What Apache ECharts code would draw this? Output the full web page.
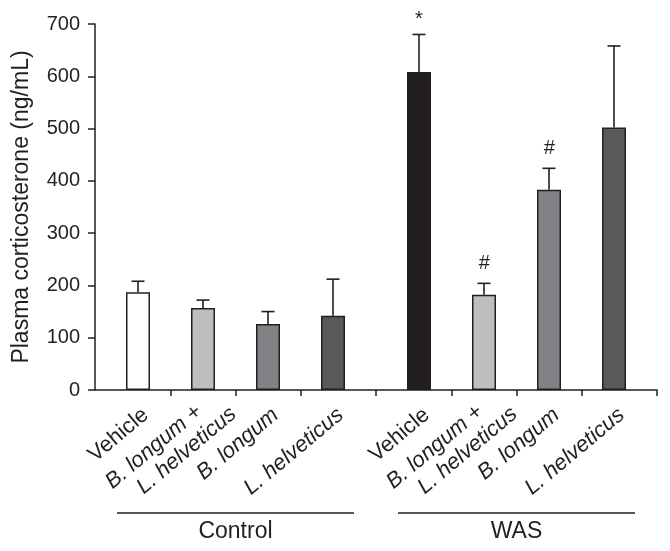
<!DOCTYPE html>
<html><head><meta charset="utf-8">
<script src="https://cdn.jsdelivr.net/npm/echarts@6/dist/echarts.min.js"></script>
<style>html,body{margin:0;padding:0;background:#fff}#c{width:670px;height:551px}</style>
</head><body><div id="c"></div>
<script>
// ---- data ----
const groupNames = ['Control', 'WAS'];
const categories = ['Vehicle', 'B. longum +\nL. helveticus', 'B. longum', 'L. helveticus'];
const controlMeans = [187, 157, 126, 142];
const controlErr = [21, 15, 24, 70];
const wasMeans = [608, 182, 383, 502];
const wasErr = [72, 22, 41, 156];
const controlMarks = ['', '', '', ''];
const wasMarks = ['*', '#', '#', ''];
const yMin = 0, yMax = 700, yInterval = 100;
const yName = 'Plasma corticosterone (ng/mL)';

// ---- styles / layout ----
const INK = '#231f20';
const FONT = '"Liberation Sans", Arial, Helvetica, sans-serif';
const controlColors = ['#ffffff', '#bcbec0', '#808285', '#58595b'];
const wasColors = ['#231f20', '#bcbec0', '#808285', '#58595b'];
const AX_L = 95, AX_R = 657, TOP = 24, BASE = 390;
const SLOT = 65, PAD = 10.5;
const g1Left = AX_L + PAD, g2Left = AX_L + 2 * PAD + 4 * SLOT + PAD;
const groupW = 4 * SLOT;
const span = AX_R - AX_L;
const tickVals = [];
for (let k = 1; k < 4; k++) tickVals.push(PAD + k * SLOT);
tickVals.push(span / 2);
for (let k = 1; k < 4; k++) tickVals.push(span / 2 + PAD + k * SLOT);
tickVals.push(span);
const LABEL_FS = 22, LABEL_LH = 24;
const markOffset = {'*': -15, '#': -20};

const chart = echarts.init(document.getElementById('c'), null, {renderer: 'canvas'});

function labelFmt(v) {
  if (v === 'Vehicle') return '{v|' + v + '}';
  const lines = v.split('\n');
  return lines.map((l, i) => (i < lines.length - 1 ? '{a|' : '{b|') + l + '}').join('\n');
}
function catData() {
  return categories.map(c => c.indexOf('\n') >= 0
    ? {value: c, textStyle: {verticalAlign: 'middle', padding: [28, -18, 0, 0]}}
    : c);
}
const catAxisLabel = {
  rotate: 40, margin: 13, fontSize: LABEL_FS, color: INK, fontFamily: FONT, interval: 0,
  verticalAlign: 'top',
  formatter: labelFmt,
  rich: {
    v: {fontSize: LABEL_FS, fontFamily: FONT, color: INK, lineHeight: LABEL_LH},
    a: {fontSize: LABEL_FS, fontFamily: FONT, color: INK, fontStyle: 'italic', lineHeight: LABEL_LH, padding: [0, 25, 0, 0]},
    b: {fontSize: LABEL_FS, fontFamily: FONT, color: INK, fontStyle: 'italic', lineHeight: LABEL_LH}
  }
};

function errRender(marks) {
  return function (params, api) {
    const i = api.value(0);
    const m = api.value(1), e = api.value(2);
    const base = api.coord([i, m]);
    const top = api.coord([i, m + e]);
    const cap = 6.5;
    const st = {stroke: INK, lineWidth: 1.6};
    const ch = [
      {type: 'line', shape: {x1: base[0], y1: base[1], x2: top[0], y2: top[1]}, style: st},
      {type: 'line', shape: {x1: top[0] - cap, y1: top[1], x2: top[0] + cap, y2: top[1]}, style: st}
    ];
    const mk = marks[params.dataIndex];
    if (mk) {
      ch.push({type: 'text', x: top[0], y: top[1] + (markOffset[mk] || -18),
        style: {text: mk, fill: INK, font: (mk === '#' ? 'italic ' : '') + '20px ' + FONT, textAlign: 'center', textVerticalAlign: 'middle'}});
    }
    return {type: 'group', children: ch};
  };
}

function barSeries(idx, means, colors) {
  return {
    type: 'bar', xAxisIndex: idx, yAxisIndex: idx, barWidth: 24, silent: true,
    data: means.map((v, i) => ({value: v, itemStyle: {color: colors[i], borderColor: INK, borderWidth: 1.5}})),
    z: 2
  };
}
function errSeries(idx, means, errs, marks) {
  return {
    type: 'custom', xAxisIndex: idx, yAxisIndex: idx, silent: true, z: 1,
    renderItem: errRender(marks),
    data: means.map((v, i) => [i, v, errs[i]])
  };
}

const hiddenY = {type: 'value', min: yMin, max: yMax, interval: yInterval, show: false};

const option = {
  animation: false,
  backgroundColor: '#fff',
  textStyle: {fontFamily: FONT},
  grid: [
    {left: AX_L, top: TOP, width: span, height: BASE - TOP},
    {left: g1Left, top: TOP, width: groupW, height: BASE - TOP},
    {left: g2Left, top: TOP, width: groupW, height: BASE - TOP}
  ],
  xAxis: [
    {gridIndex: 0, type: 'value', min: 0, max: span, splitLine: {show: false},
      axisLine: {show: true, onZero: false, lineStyle: {color: INK, width: 1.5}},
      axisTick: {show: true, length: 6, lineStyle: {color: INK, width: 1.5}, customValues: tickVals},
      axisLabel: {show: false}},
    {gridIndex: 1, type: 'category', data: catData(), axisLine: {show: false}, axisTick: {show: false}, axisLabel: catAxisLabel},
    {gridIndex: 2, type: 'category', data: catData(), axisLine: {show: false}, axisTick: {show: false}, axisLabel: catAxisLabel}
  ],
  yAxis: [
    {gridIndex: 0, type: 'value', min: yMin, max: yMax, interval: yInterval,
      splitLine: {show: false},
      axisLine: {show: true, lineStyle: {color: INK, width: 1.5}},
      axisTick: {show: true, length: 7, lineStyle: {color: INK, width: 1.5}},
      axisLabel: {fontSize: 20, color: INK, fontFamily: FONT, margin: 15},
      name: yName, nameLocation: 'middle', nameRotate: 90, nameGap: 62,
      nameTextStyle: {fontSize: 23, color: INK, fontFamily: FONT}},
    Object.assign({gridIndex: 1}, hiddenY),
    Object.assign({gridIndex: 2}, hiddenY)
  ],
  series: [
    errSeries(1, controlMeans, controlErr, controlMarks),
    barSeries(1, controlMeans, controlColors),
    errSeries(2, wasMeans, wasErr, wasMarks),
    barSeries(2, wasMeans, wasColors)
  ],
  graphic: [
    {type: 'line', shape: {x1: g1Left + 11.5, y1: 513, x2: g1Left + groupW - 11.5, y2: 513}, style: {stroke: INK, lineWidth: 1.5}},
    {type: 'line', shape: {x1: g2Left + 11.5, y1: 513, x2: g2Left + groupW - 11.5, y2: 513}, style: {stroke: INK, lineWidth: 1.5}},
    {type: 'text', x: g1Left + groupW / 2, y: 532, style: {text: groupNames[0], font: '23px ' + FONT, fill: INK, textAlign: 'center', textVerticalAlign: 'middle'}},
    {type: 'text', x: g2Left + groupW / 2, y: 532, style: {text: groupNames[1], font: '23px ' + FONT, fill: INK, textAlign: 'center', textVerticalAlign: 'middle'}}
  ]
};
chart.setOption(option);
</script></body></html>
